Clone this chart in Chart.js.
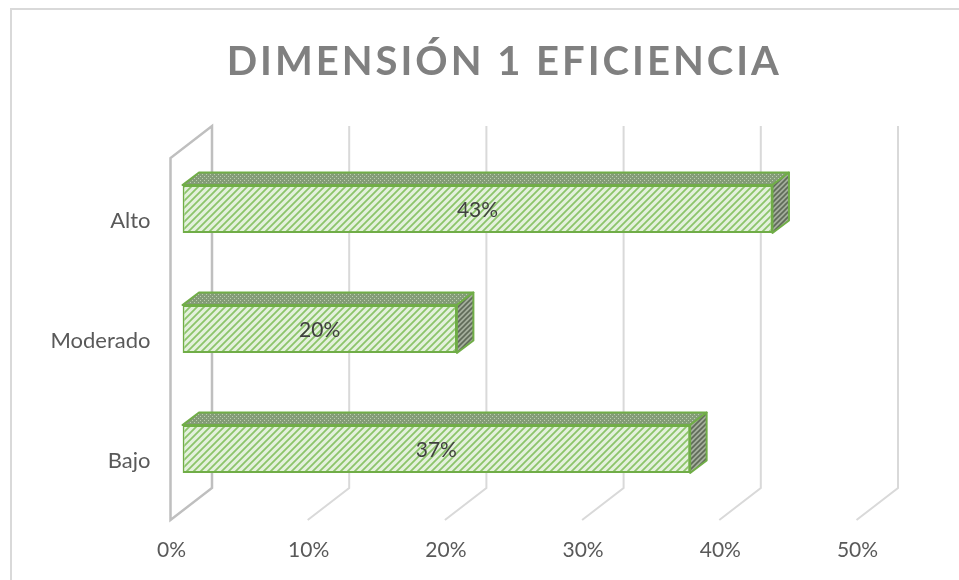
<!DOCTYPE html>
<html>
<head>
<meta charset="utf-8">
<script src="https://cdn.jsdelivr.net/npm/chart.js@4.4.1/dist/chart.umd.min.js"></script>
<style>
  html, body { margin: 0; padding: 0; background: #fff; }
  #wrap { position: relative; width: 959px; height: 580px; overflow: hidden; }
  #frame { position: absolute; left: 10px; top: 8px; width: 1000px; height: 640px; border: 2px solid #d9d9d9; box-sizing: border-box; }
  canvas { position: absolute; left: 0; top: 0; }
</style>
</head>
<body>
<div id="wrap">
  <div id="frame"></div>
  <canvas id="chart" width="959" height="580"></canvas>
</div>
<script>
const categorias = ['Alto', 'Moderado', 'Bajo'];
const porcentajes = [43, 20, 37];
const xTicks = [0, 10, 20, 30, 40, 50];
const titulo = 'DIMENSIÓN 1 EFICIENCIA';

// 3d offsets (px) relative to the plane of the bars
const backDX = 29.5, backTopDY = -23, backBotDY = -21;
const floorDX = -41.5, floorDY = 32;
const barDX = 16.5, barDY = -12.5;
const titleShift = 70;

function stripes(size, bg, fg, lw, dots) {
  const c = document.createElement('canvas');
  c.width = size; c.height = size;
  const g = c.getContext('2d');
  g.fillStyle = bg;
  g.fillRect(0, 0, size, size);
  if (dots) {
    g.fillStyle = fg;
    g.fillRect(0, 0, 1, 1);
    g.fillRect(2, 2, 1, 1);
  } else {
    g.strokeStyle = fg;
    g.lineWidth = lw;
    g.beginPath();
    g.moveTo(-2, size + 2); g.lineTo(size + 2, -2);
    g.moveTo(-2, 2); g.lineTo(2, -2);
    g.moveTo(size - 2, size + 2); g.lineTo(size + 2, size - 2);
    g.stroke();
  }
  return g.createPattern(c, 'repeat');
}

const ctx = document.getElementById('chart').getContext('2d');
const frontFill = stripes(7, '#e4f1dc', '#8cc46a', 1.8);
const topFill = stripes(4, '#849c78', '#bcd0ae', 1, true);
const sideFill = stripes(5, '#a4ae9c', '#5f6a58', 1.6);

const walls = {
  id: 'walls',
  beforeDraw(chart) {
    const tb = chart.titleBlock;
    if (tb && !tb._spaced) {
      const orig = tb.draw.bind(tb);
      tb.draw = function () {
        chart.ctx.save();
        chart.ctx.letterSpacing = '3px';
        chart.ctx.translate(titleShift, 0);
        orig();
        chart.ctx.restore();
      };
      tb._spaced = true;
    }
  },
  beforeDatasetsDraw(chart) {
    const { ctx, chartArea: a, scales: { x } } = chart;
    const bTop = a.top + backTopDY, bBot = a.bottom + backBotDY;
    ctx.save();
    ctx.lineJoin = 'miter';
    // grid on back wall + floor
    ctx.strokeStyle = '#d9d9d9';
    ctx.lineWidth = 2;
    xTicks.slice(1).forEach(v => {
      const bx = x.getPixelForValue(v) + backDX;
      ctx.beginPath();
      ctx.moveTo(bx, bTop);
      ctx.lineTo(bx, bBot);
      ctx.lineTo(bx + floorDX, bBot + floorDY);
      ctx.stroke();
    });
    // side wall
    const b0 = x.getPixelForValue(0) + backDX;
    ctx.strokeStyle = '#bfbfbf';
    ctx.lineWidth = 2.5;
    ctx.beginPath();
    ctx.moveTo(b0, bTop);
    ctx.lineTo(b0, bBot);
    ctx.lineTo(b0 + floorDX, bBot + floorDY);
    ctx.lineTo(b0 + floorDX, bTop + floorDY);
    ctx.closePath();
    ctx.stroke();

    // top and side faces of the bars
    ctx.strokeStyle = '#70ad47';
    ctx.lineWidth = 2;
    ctx.lineJoin = 'round';
    chart.getDatasetMeta(0).data.forEach(bar => {
      const { x: x1, y, base: x0, height: h } = bar.getProps(['x', 'y', 'base', 'height']);
      const t = y - h / 2, b = y + h / 2;
      ctx.fillStyle = topFill;
      ctx.beginPath();
      ctx.moveTo(x0, t);
      ctx.lineTo(x0 + barDX, t + barDY);
      ctx.lineTo(x1 + barDX, t + barDY);
      ctx.lineTo(x1, t);
      ctx.closePath();
      ctx.fill();
      ctx.stroke();
      ctx.fillStyle = sideFill;
      ctx.beginPath();
      ctx.moveTo(x1, t);
      ctx.lineTo(x1 + barDX, t + barDY);
      ctx.lineTo(x1 + barDX, b + barDY);
      ctx.lineTo(x1, b);
      ctx.closePath();
      ctx.fill();
      ctx.stroke();
    });
    ctx.restore();
  },
  afterDatasetsDraw(chart) {
    const { ctx } = chart;
    ctx.save();
    ctx.fillStyle = '#404040';
    ctx.font = '21px Lato';
    ctx.textAlign = 'center';
    ctx.textBaseline = 'middle';
    chart.getDatasetMeta(0).data.forEach((bar, i) => {
      const { x: x1, y, base: x0 } = bar.getProps(['x', 'y', 'base']);
      ctx.fillText(porcentajes[i] + '%', (x0 + x1) / 2, y + 1);
    });
    ctx.restore();
  }
};

new Chart(ctx, {
  type: 'bar',
  data: {
    labels: categorias,
    datasets: [{
      data: porcentajes,
      backgroundColor: frontFill,
      borderColor: '#70ad47',
      borderWidth: 2,
      borderSkipped: false,
      barPercentage: 0.4,
      categoryPercentage: 1
    }]
  },
  options: {
    indexAxis: 'y',
    responsive: false,
    animation: false,
    layout: { padding: { left: 0, right: 90.5, top: 0, bottom: 0 } },
    plugins: {
      legend: { display: false },
      tooltip: { enabled: false },
      title: {
        display: true,
        text: titulo,
        color: '#808080',
        font: { family: 'Lato', size: 40, weight: 'bold', lineHeight: 1.2 },
        padding: { top: 38, bottom: 63 }
      }
    },
    scales: {
      x: {
        min: 0,
        max: 50,
        grid: { display: false, drawTicks: false },
        border: { display: false },
        afterBuildTicks(s) { s.ticks = xTicks.map(v => ({ value: v })); },
        ticks: {
          callback: v => v + '%',
          color: '#595959',
          font: { family: 'Lato', size: 21 },
          padding: 29,
          labelOffset: -11,
          maxRotation: 0,
          autoSkip: false
        },
        afterFit(s) { s.height = 71; }
      },
      y: {
        grid: { display: false, drawTicks: false },
        border: { display: false },
        ticks: {
          color: '#595959',
          font: { family: 'Lato', size: 22 },
          padding: 32,
          labelOffset: 12
        },
        afterFit(s) { s.width = 182.5; }
      }
    }
  },
  plugins: [walls]
});
</script>
</body>
</html>
